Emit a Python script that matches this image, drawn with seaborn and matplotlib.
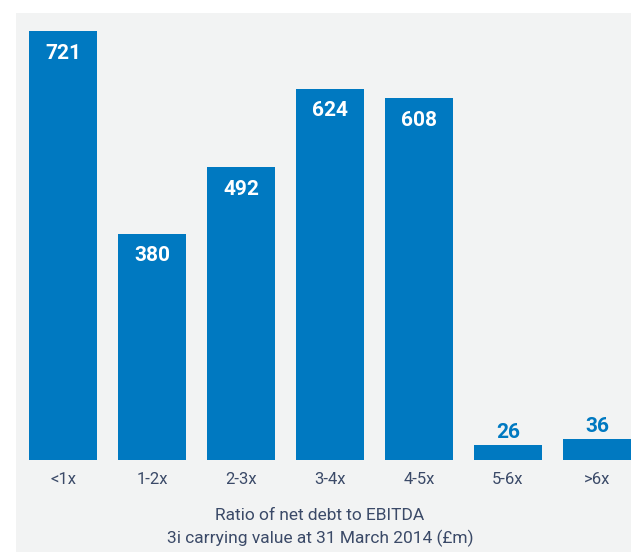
import matplotlib
matplotlib.use("Agg")
import matplotlib.pyplot as plt
import seaborn as sns
import pandas as pd

categories = ["<1x", "1-2x", "2-3x", "3-4x", "4-5x", "5-6x", ">6x"]
values = [721, 380, 492, 624, 608, 26, 36]
title_lines = ["Ratio of net debt to EBITDA", "3i carrying value at 31 March 2014 (£m)"]

BLUE = "#0079c1"
TEXT = "#3b4a68"
BG = "#f2f3f3"

plt.rcParams['font.family'] = ['Roboto', 'DejaVu Sans']

W, H = 631, 552
fig = plt.figure(figsize=(W / 100, H / 100), dpi=100, facecolor="white")
ax = fig.add_axes([16 / W, 0, (W - 16) / W, (H - 13) / H])
ax.set_facecolor(BG)

df = pd.DataFrame({"cat": categories, "val": values})
sns.barplot(data=df, x="cat", y="val", color=BLUE, saturation=1, width=68 / 89, ax=ax)

scale = 0.595  # px per unit
ax.set_xlim((16 - 63) / 89, (W - 63) / 89)
ax.set_ylim(-(H - 460) / scale, (460 - 13) / scale)

for s in ax.spines.values():
    s.set_visible(False)
ax.set_xticks([])
ax.set_yticks([])
ax.set_xlabel("")
ax.set_ylabel("")

for i, (c, v) in enumerate(zip(categories, values)):
    if v > 100:
        ax.text(i, v - 22 / scale, str(v), ha="center", va="center",
                color="white", fontsize=15, fontweight="bold")
    else:
        ax.text(i, v + 12 / scale, str(v), ha="center", va="center",
                color=BLUE, fontsize=15, fontweight="bold")
    ax.text(i, -(479 - 460) / scale, c, ha="center", va="center",
            color=TEXT, fontsize=12)

cx = (320 - 63) / 89
ax.text(cx, -(516 - 460) / scale, title_lines[0], ha="center", va="center",
        color=TEXT, fontsize=12.5)
ax.text(cx, -(538 - 460) / scale, title_lines[1], ha="center", va="center",
        color=TEXT, fontsize=12.5)

fig.savefig("out.png", dpi=100, facecolor="white")
